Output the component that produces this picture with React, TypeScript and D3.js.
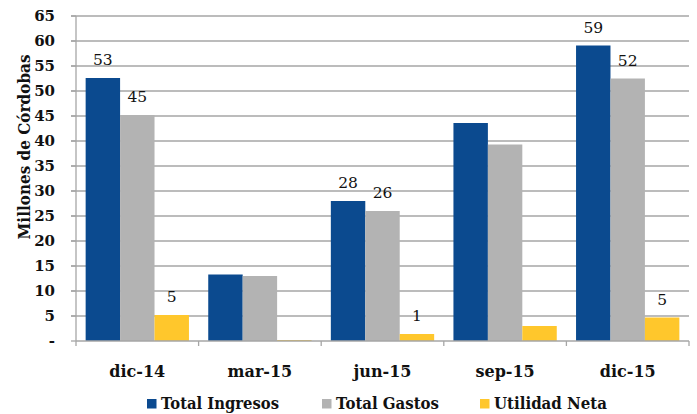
import * as d3 from "d3";

const categories = ["dic-14", "mar-15", "jun-15", "sep-15", "dic-15"];
const seriesNames = ["Total Ingresos", "Total Gastos", "Utilidad Neta"];
const ingresos = [52.6, 13.3, 28.0, 43.6, 59.1];
const gastos = [45.2, 13.0, 26.0, 39.3, 52.5];
const utilidad = [5.2, 0.2, 1.4, 3.0, 4.7];
// labels only shown on some periods
const labelIngresos = ["53", "", "28", "", "59"];
const labelGastos = ["45", "", "26", "", "52"];
const labelUtilidad = ["5", "", "1", "", "5"];
const yTicks = [0, 5, 10, 15, 20, 25, 30, 35, 40, 45, 50, 55, 60, 65];
const colors = ["#0B4A8F", "#B3B3B3", "#FFC72C"];

const W = 697;
const H = 414;
const margin = { left: 76, right: 8, top: 16, bottom: 73 };
const font = "'DejaVu Serif'";

export default function App() {
  const x = d3
    .scaleBand()
    .domain(categories)
    .range([margin.left, 689])
    .paddingInner(0)
    .paddingOuter(0);
  const y = d3.scaleLinear().domain([0, 65]).range([341, 16]);
  const inner = d3
    .scaleBand()
    .domain(seriesNames)
    .range([0, x.bandwidth()])
    .paddingOuter(0.28)
    .paddingInner(0);

  const series = [ingresos, gastos, utilidad];
  const labels = [labelIngresos, labelGastos, labelUtilidad];
  const legendX = [147, 322, 480];
  const legendW = [118, 103, 113];

  return (
    <svg
      width={W}
      height={H}
      style={{ position: "absolute", left: 0, top: 0, fontFamily: font }}
    >
      {yTicks.map((t) => (
        <g key={t}>
          {t > 0 && (
            <line x1={71} x2={689} y1={y(t)} y2={y(t)} stroke="#A6A6A6" strokeWidth={1.3} />
          )}
          <line x1={71} x2={76} y1={y(t)} y2={y(t)} stroke="#A6A6A6" strokeWidth={1.3} />
          <text
            x={55}
            y={y(t)}
            dy="0.36em"
            textAnchor="end"
            fontSize={15}
            fontWeight="bold"
            fill="#111"
          >
            {t === 0 ? "-" : t}
          </text>
        </g>
      ))}
      <text
        transform={`translate(24, 147) rotate(-90)`}
        dy="0.35em"
        textAnchor="middle"
        fontSize={16}
        fontWeight="bold"
        fill="#111"
        textLength={185}
        lengthAdjust="spacingAndGlyphs"
      >
        Millones de Córdobas
      </text>

      {series.map((vals, si) =>
        vals.map((v, ci) => {
          const bx = (x(categories[ci]) as number) + (inner(seriesNames[si]) as number);
          return (
            <g key={`${si}-${ci}`}>
              <rect
                x={bx}
                y={y(v)}
                width={inner.bandwidth()}
                height={y(0) - y(v)}
                fill={colors[si]}
              />
              {labels[si][ci] && (
                <text
                  x={bx + inner.bandwidth() / 2}
                  y={y(v) - 13}
                  textAnchor="middle"
                  fontSize={15.5}
                  fill="#111"
                >
                  {labels[si][ci]}
                </text>
              )}
            </g>
          );
        })
      )}

      <line x1={76} x2={76} y1={16} y2={341} stroke="#A6A6A6" strokeWidth={1.3} />
      <line x1={76} x2={689} y1={341} y2={341} stroke="#A6A6A6" strokeWidth={1.3} />
      {[...categories.map((c) => x(c) as number), 689].map((bx, i) => (
        <line key={i} x1={bx} x2={bx} y1={341} y2={346} stroke="#A6A6A6" strokeWidth={1.3} />
      ))}
      {categories.map((c) => (
        <text
          key={c}
          x={(x(c) as number) + x.bandwidth() / 2}
          y={377}
          textAnchor="middle"
          fontSize={16}
          fontWeight="bold"
          fill="#111"
        >
          {c}
        </text>
      ))}

      {seriesNames.map((s, i) => (
        <g key={s}>
          <rect x={legendX[i]} y={399} width={9.5} height={9.5} fill={colors[i]} />
          <text
            x={legendX[i] + 14}
            y={409}
            fontSize={16}
            fontWeight="bold"
            fill="#111"
            textLength={legendW[i]}
            lengthAdjust="spacingAndGlyphs"
          >
            {s}
          </text>
        </g>
      ))}
    </svg>
  );
}
